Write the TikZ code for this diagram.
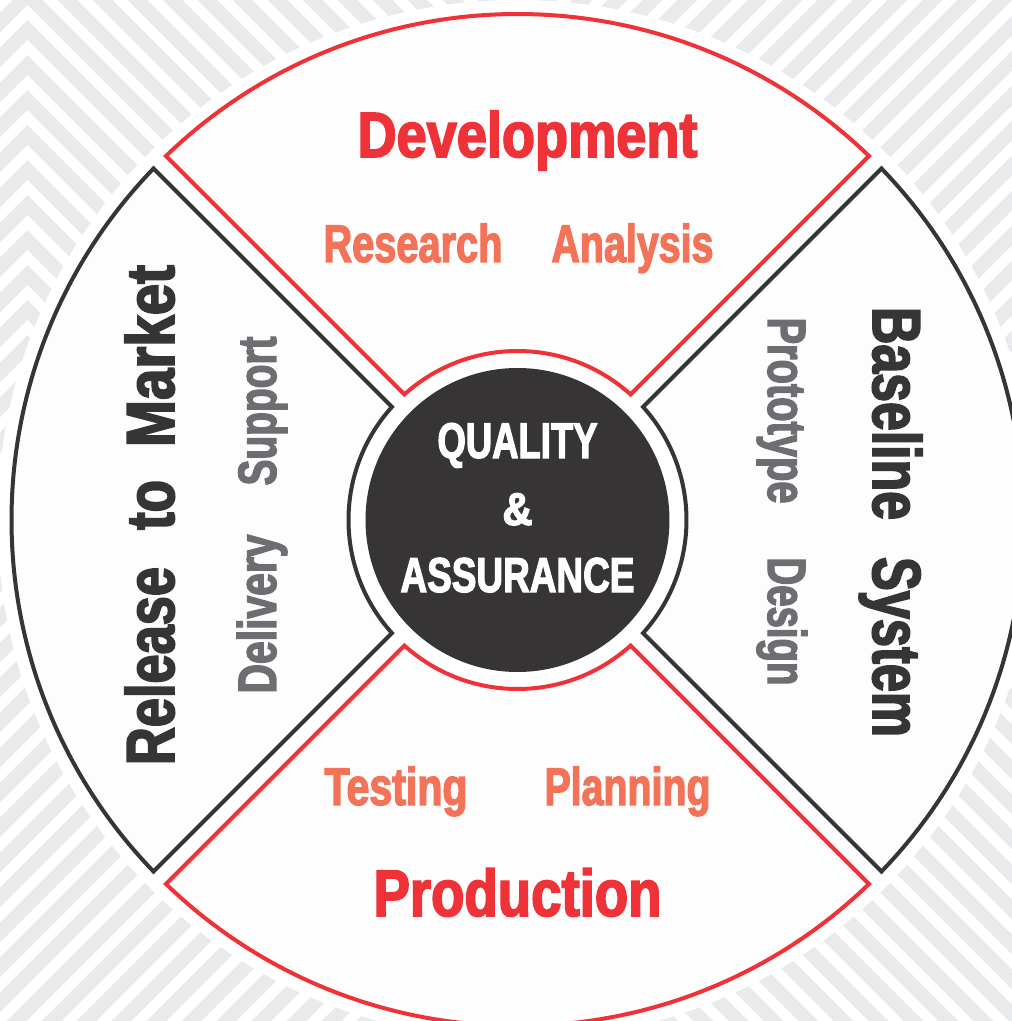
\documentclass[tikz,border=0pt]{standalone}
\usepackage{fontspec}
\usepackage{graphicx}
\IfFontExistsTF{Liberation Sans Narrow}{\newfontfamily\cf{Liberation Sans Narrow}[BoldFeatures={FakeBold=2.5}]}{\newfontfamily\cf[FakeStretch=0.8,BoldFeatures={FakeBold=2.5}]{Liberation Sans}}
\definecolor{cred}{RGB}{238,50,56}
\definecolor{csal}{RGB}{243,115,88}
\definecolor{cdark}{RGB}{54,52,53}
\definecolor{cgray}{RGB}{109,110,113}
\definecolor{cstripe}{RGB}{233,234,236}
\definecolor{cfill}{RGB}{253,253,253}
\newcommand\fw[2]{\resizebox{#1pt}{\height}{#2}}
\newcommand\fsz[1]{\cf\bfseries\fontsize{#1}{#1}\selectfont}
\tikzset{
  stripe/.style={cstripe, line width=14pt},
  sector/.style={line width=4pt, fill=cfill},
  lbl/.style={inner sep=0pt, anchor=base},
}
\begin{document}
\begin{tikzpicture}[x=1pt,y=1pt]
\useasboundingbox (-517.5,-501) rectangle (494.5,520);
\clip (-517.5,-501) rectangle (494.5,520);
\fill[white] (-517.5,-501) rectangle (494.5,520);
% background stripes
\begin{scope}
  \clip (-490.5,0) rectangle (0,520);
  \foreach \c in {-1120,-1085,...,1120} \draw[stripe] (-600,\c+600) -- (600,\c-600);
\end{scope}
\begin{scope}
  \clip (-517.5,0) rectangle (-490.5,520);
  \foreach \c in {-1120,-1085,...,1120} \draw[stripe] (-600,-600-\c) -- (600,600-\c);
\end{scope}
\begin{scope}
  \clip (0,0) rectangle (494.5,520);
  \foreach \c in {-1120,-1085,...,1120} \draw[stripe] (-600,-600-\c) -- (600,600-\c);
\end{scope}
\begin{scope}
  \clip (0,0) rectangle (494.5,-501);
  \foreach \c in {-1120,-1085,...,1120} \draw[stripe] (-600,\c+600) -- (600,\c-600);
\end{scope}
\begin{scope}
  \clip (-517.5,0) rectangle (0,-501);
  \foreach \c in {-1120,-1085,...,1120} \draw[stripe] (-600,-600-\c) -- (600,600-\c);
\end{scope}
% white halo
\fill[white] (0,0) circle (520pt);
% sectors
\pgfmathsetmacro\ao{asin(8.8/506)}
\pgfmathsetmacro\ai{asin(8.8/169)}
\foreach \t/\col in {90/cred,0/cdark,270/cred,180/cdark}{
  \draw[sector, draw=\col] (\t-45+\ao:506pt)
    arc[start angle=\t-45+\ao, end angle=\t+45-\ao, radius=506pt]
    -- (\t+45-\ai:169pt)
    arc[start angle=\t+45-\ai, end angle=\t-45+\ai, radius=169pt] -- cycle;
}
% core
\node[circle, fill=cdark, minimum size=304pt, inner sep=0pt] (core) at (0,0) {};
\node[lbl, text=white, font=\fsz{50}] (q1) at (0,62) {\fw{160}{QUALITY}};
\node[lbl, text=white, font=\fsz{46}] (q2) at (0,-5) {\fw{30}{\&}};
\node[lbl, text=white, font=\fsz{49}] (q3) at (0,-72) {\fw{234}{ASSURANCE}};
% top
\node[lbl, text=cred, font=\fsz{64}] (dev) at (10,363) {\fw{340}{Development}};
\node[lbl, text=csal, font=\fsz{53}] (res) at (-104.5,258) {\fw{179}{Research}};
\node[lbl, text=csal, font=\fsz{53}] (ana) at (115,258) {\fw{162}{Analysis}};
% bottom
\node[lbl, text=csal, font=\fsz{53}] (tst) at (-121.5,-285) {\fw{143}{Testing}};
\node[lbl, text=csal, font=\fsz{53}] (pla) at (110,-285) {\fw{166}{Planning}};
\node[lbl, text=cred, font=\fsz{66}] (pro) at (0,-396) {\fw{288}{Production}};
% left
\node[lbl, text=cdark, font=\fsz{68}, rotate=90] (rel) at (-343.5,5)
  {\fw{198}{Release}\hspace{37pt}\fw{50}{to}\hspace{33pt}\fw{182}{Market}};
\node[lbl, text=cgray, font=\fsz{54}, rotate=90] (sup) at (-241.5,109) {\fw{149}{Support}};
\node[lbl, text=cgray, font=\fsz{54}, rotate=90] (del) at (-241.5,-94) {\fw{159}{Delivery}};
% right
\node[lbl, text=cdark, font=\fsz{68}, rotate=-90] (bas) at (355.5,-2)
  {\fw{213}{Baseline}\hspace{37pt}\fw{180}{System}};
\node[lbl, text=cgray, font=\fsz{54}, rotate=-90] (prt) at (250.5,109.5) {\fw{186}{Prototype}};
\node[lbl, text=cgray, font=\fsz{54}, rotate=-90] (des) at (250.5,-101.5) {\fw{128}{Design}};
\end{tikzpicture}
\end{document}
